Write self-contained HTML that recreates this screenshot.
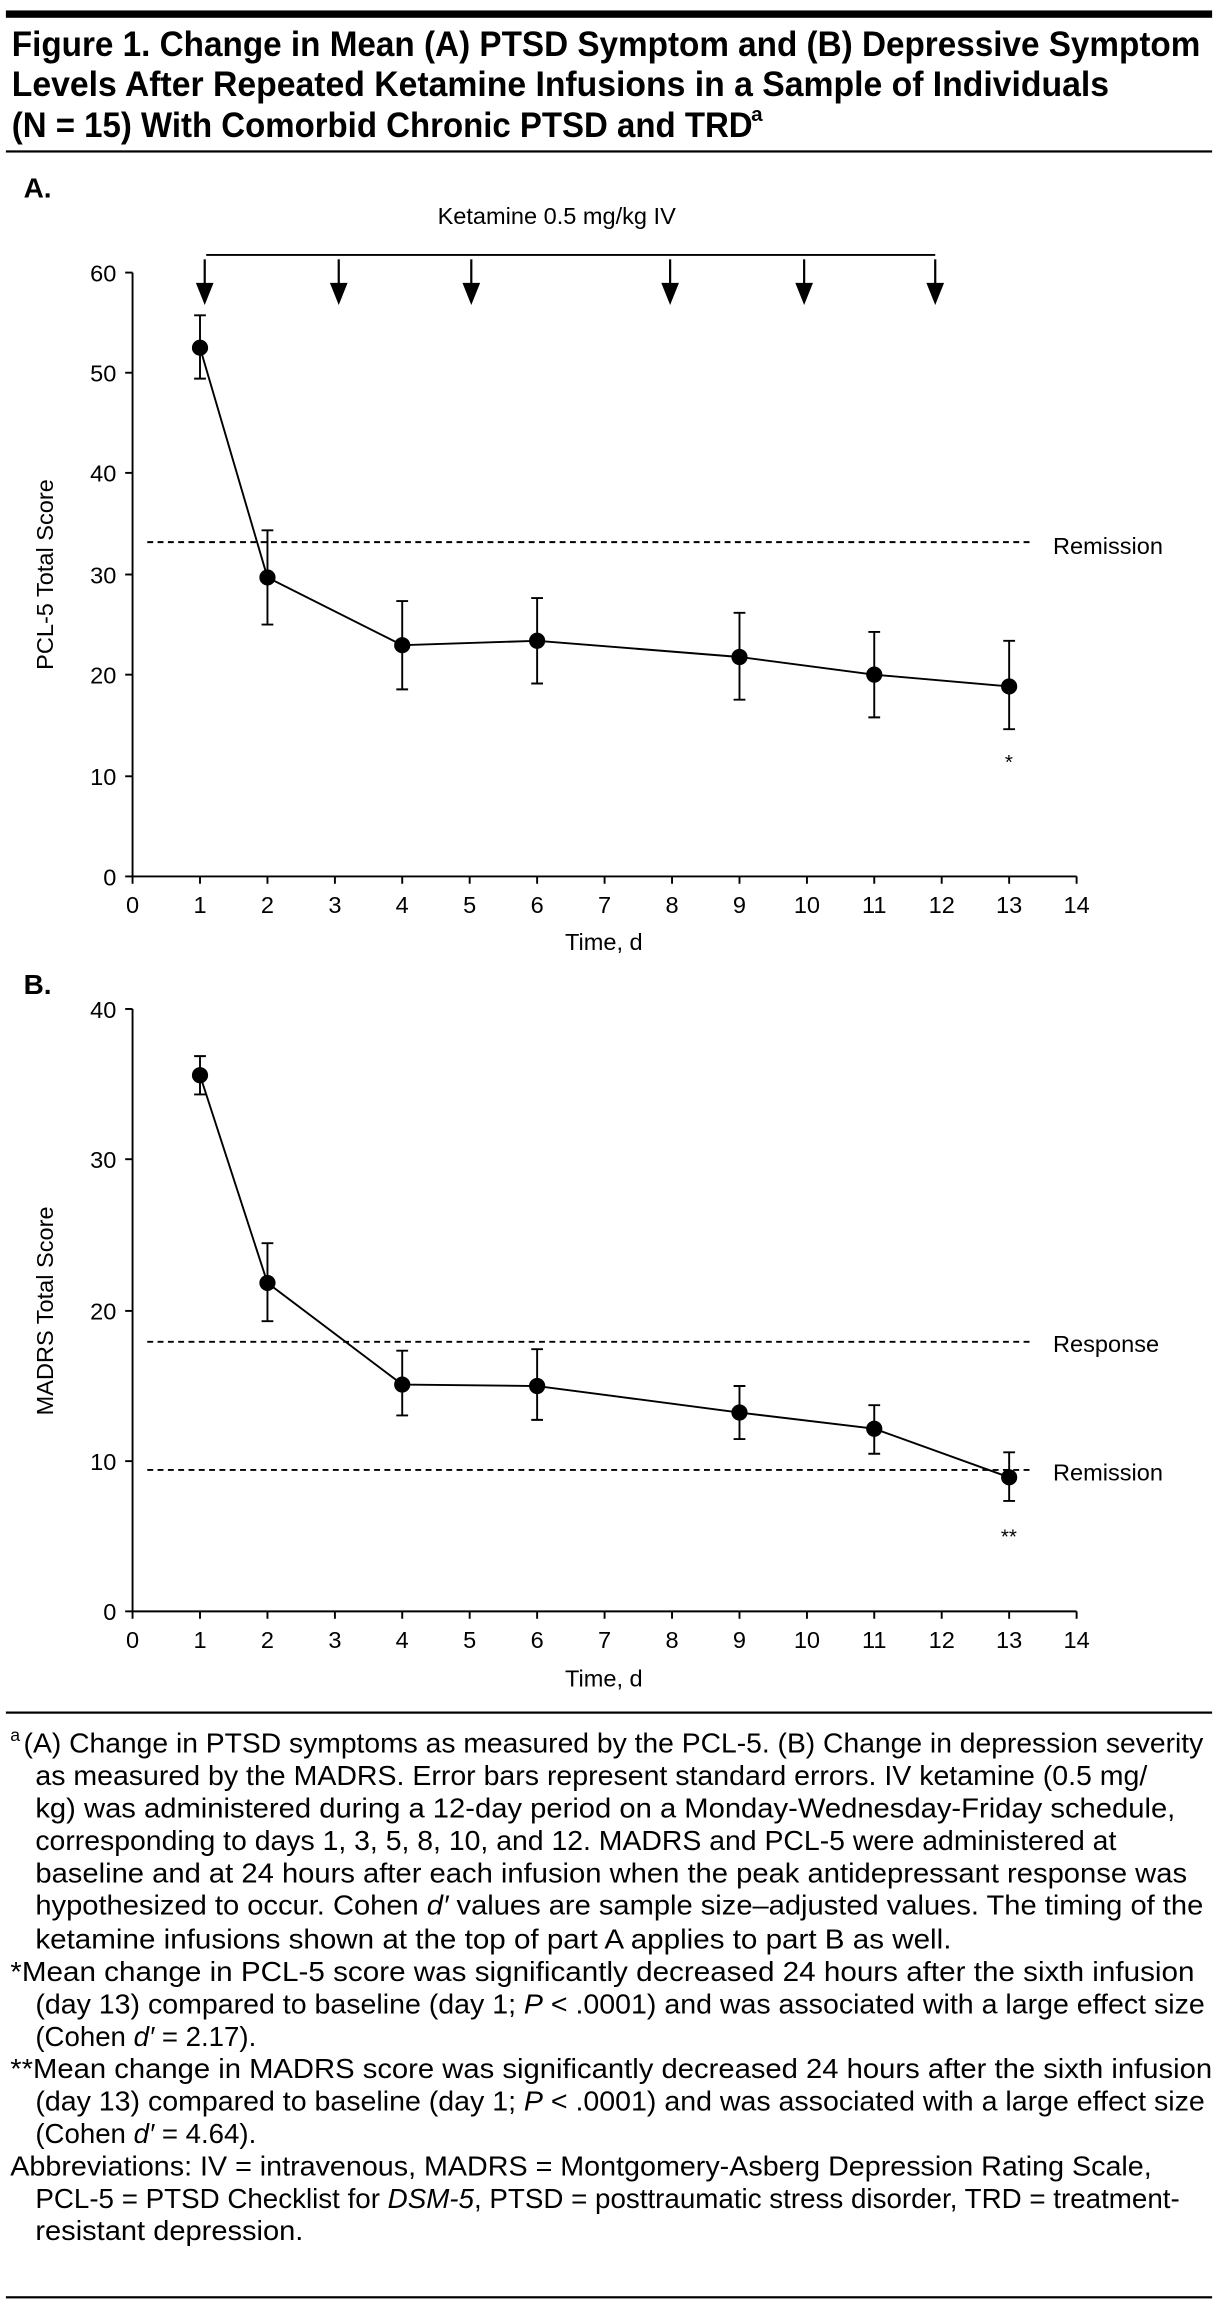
<!DOCTYPE html>
<html><head><meta charset="utf-8"><style>
html,body{margin:0;padding:0;background:#fff}
svg{display:block}
text{font-family:"Liberation Sans",sans-serif;fill:#000}
</style></head><body>
<svg width="1218" height="2314" viewBox="0 0 827 1571" xmlns="http://www.w3.org/2000/svg">
<rect x="4" y="7" width="819" height="5" fill="#000"/>
<g font-weight="bold" font-size="24">
<text x="8" y="38" textLength="807" lengthAdjust="spacingAndGlyphs">Figure 1. Change in Mean (A) PTSD Symptom and (B) Depressive Symptom</text>
<text x="8" y="65" textLength="745" lengthAdjust="spacingAndGlyphs">Levels After Repeated Ketamine Infusions in a Sample of Individuals</text>
<text x="8" y="93" textLength="503" lengthAdjust="spacingAndGlyphs">(N = 15) With Comorbid Chronic PTSD and TRD</text>
<text x="510" y="82" font-size="14" font-weight="bold">a</text>
</g>
<rect x="4" y="102" width="819" height="1.5" fill="#000"/>
<text x="16" y="134" font-size="19" font-weight="bold">A.</text>

<!-- Panel A -->
<g stroke="#000" fill="none" stroke-width="1.3">
<line x1="90" y1="185" x2="90" y2="595"/>
<line x1="90" y1="595" x2="731" y2="595"/>
<line x1="85" y1="185" x2="90" y2="185"/><line x1="85" y1="253" x2="90" y2="253"/><line x1="85" y1="321" x2="90" y2="321"/><line x1="85" y1="390" x2="90" y2="390"/><line x1="85" y1="458" x2="90" y2="458"/><line x1="85" y1="527" x2="90" y2="527"/><line x1="85" y1="595" x2="90" y2="595"/>
<path d="M90 595v5M135.8 595v5M181.6 595v5M227.4 595v5M273.1 595v5M318.9 595v5M364.7 595v5M410.5 595v5M456.3 595v5M502.1 595v5M547.9 595v5M593.6 595v5M639.4 595v5M685.2 595v5M731 595v5"/>
<line x1="140" y1="173" x2="635" y2="173"/>
<line x1="100" y1="368" x2="700" y2="368" stroke-dasharray="4,3"/>
</g>
<g stroke="#000" stroke-width="1.5">
<line x1="139" y1="176" x2="139" y2="195"/><line x1="230" y1="176" x2="230" y2="195"/><line x1="320" y1="176" x2="320" y2="195"/><line x1="455" y1="176" x2="455" y2="195"/><line x1="546" y1="176" x2="546" y2="195"/><line x1="635" y1="176" x2="635" y2="195"/>
</g>
<g fill="#000">
<path d="M133 192h12l-6 15z"/><path d="M224 192h12l-6 15z"/><path d="M314 192h12l-6 15z"/><path d="M449 192h12l-6 15z"/><path d="M540 192h12l-6 15z"/><path d="M629 192h12l-6 15z"/>
</g>
<text x="378" y="152" font-size="16" text-anchor="middle">Ketamine 0.5 mg/kg IV</text>
<g font-size="16" text-anchor="end">
<text x="79" y="191">60</text><text x="79" y="259">50</text><text x="79" y="327">40</text><text x="79" y="396">30</text><text x="79" y="464">20</text><text x="79" y="533">10</text><text x="79" y="601">0</text>
</g>
<g font-size="16" text-anchor="middle">
<text x="90" y="620">0</text><text x="135.8" y="620">1</text><text x="181.6" y="620">2</text><text x="227.4" y="620">3</text><text x="273.1" y="620">4</text><text x="318.9" y="620">5</text><text x="364.7" y="620">6</text><text x="410.5" y="620">7</text><text x="456.3" y="620">8</text><text x="502.1" y="620">9</text><text x="547.9" y="620">10</text><text x="593.6" y="620">11</text><text x="639.4" y="620">12</text><text x="685.2" y="620">13</text><text x="731" y="620">14</text>
<text x="410" y="645">Time, d</text>
<text x="685" y="522" font-size="14">*</text>
</g>
<text x="715" y="376" font-size="16">Remission</text>
<text transform="translate(36,390) rotate(-90)" font-size="16" text-anchor="middle">PCL-5 Total Score</text>
<g stroke="#000" stroke-width="1.3" fill="none">
<polyline points="135.8,236 181.6,392 273.1,438 364.7,435 502.1,446 593.6,458 685.2,466"/>
<path d="M135.8 214V257M131.8 214h8M131.8 257h8"/>
<path d="M181.6 360V424M177.6 360h8M177.6 424h8"/>
<path d="M273.1 408V468M269.1 408h8M269.1 468h8"/>
<path d="M364.7 406V464M360.7 406h8M360.7 464h8"/>
<path d="M502.1 416V475M498.1 416h8M498.1 475h8"/>
<path d="M593.6 429V487M589.6 429h8M589.6 487h8"/>
<path d="M685.2 435V495M681.2 435h8M681.2 495h8"/>
</g>
<g fill="#000">
<circle cx="135.8" cy="236" r="5.5"/><circle cx="181.6" cy="392" r="5.5"/><circle cx="273.1" cy="438" r="5.5"/><circle cx="364.7" cy="435" r="5.5"/><circle cx="502.1" cy="446" r="5.5"/><circle cx="593.6" cy="458" r="5.5"/><circle cx="685.2" cy="466" r="5.5"/>
</g>

<!-- Panel B -->
<text x="16" y="675" font-size="19" font-weight="bold">B.</text>
<g stroke="#000" fill="none" stroke-width="1.3">
<line x1="90" y1="685" x2="90" y2="1094"/>
<line x1="90" y1="1094" x2="731" y2="1094"/>
<line x1="85" y1="685" x2="90" y2="685"/><line x1="85" y1="787" x2="90" y2="787"/><line x1="85" y1="890" x2="90" y2="890"/><line x1="85" y1="992" x2="90" y2="992"/><line x1="85" y1="1094" x2="90" y2="1094"/>
<path d="M90 1094v5M135.8 1094v5M181.6 1094v5M227.4 1094v5M273.1 1094v5M318.9 1094v5M364.7 1094v5M410.5 1094v5M456.3 1094v5M502.1 1094v5M547.9 1094v5M593.6 1094v5M639.4 1094v5M685.2 1094v5M731 1094v5"/>
<line x1="100" y1="911" x2="700" y2="911" stroke-dasharray="4,3"/>
<line x1="100" y1="998" x2="700" y2="998" stroke-dasharray="4,3"/>
</g>
<g font-size="16" text-anchor="end">
<text x="79" y="691">40</text><text x="79" y="793">30</text><text x="79" y="896">20</text><text x="79" y="998">10</text><text x="79" y="1100">0</text>
</g>
<g font-size="16" text-anchor="middle">
<text x="90" y="1119">0</text><text x="135.8" y="1119">1</text><text x="181.6" y="1119">2</text><text x="227.4" y="1119">3</text><text x="273.1" y="1119">4</text><text x="318.9" y="1119">5</text><text x="364.7" y="1119">6</text><text x="410.5" y="1119">7</text><text x="456.3" y="1119">8</text><text x="502.1" y="1119">9</text><text x="547.9" y="1119">10</text><text x="593.6" y="1119">11</text><text x="639.4" y="1119">12</text><text x="685.2" y="1119">13</text><text x="731" y="1119">14</text>
<text x="410" y="1145">Time, d</text>
<text x="685" y="1048" font-size="14">**</text>
</g>
<text x="715" y="918" font-size="16">Response</text>
<text x="715" y="1005" font-size="16">Remission</text>
<text transform="translate(36,890) rotate(-90)" font-size="16" text-anchor="middle">MADRS Total Score</text>
<g stroke="#000" stroke-width="1.3" fill="none">
<polyline points="135.8,730 181.6,871 273.1,940 364.7,941 502.1,959 593.6,970 685.2,1003"/>
<path d="M135.8 717V743M131.8 717h8M131.8 743h8"/>
<path d="M181.6 844V897M177.6 844h8M177.6 897h8"/>
<path d="M273.1 917V961M269.1 917h8M269.1 961h8"/>
<path d="M364.7 916V964M360.7 916h8M360.7 964h8"/>
<path d="M502.1 941V977M498.1 941h8M498.1 977h8"/>
<path d="M593.6 954V987M589.6 954h8M589.6 987h8"/>
<path d="M685.2 986V1019M681.2 986h8M681.2 1019h8"/>
</g>
<g fill="#000">
<circle cx="135.8" cy="730" r="5.5"/><circle cx="181.6" cy="871" r="5.5"/><circle cx="273.1" cy="940" r="5.5"/><circle cx="364.7" cy="941" r="5.5"/><circle cx="502.1" cy="959" r="5.5"/><circle cx="593.6" cy="970" r="5.5"/><circle cx="685.2" cy="1003" r="5.5"/>
</g>

<rect x="4" y="1162" width="819" height="1.5" fill="#000"/>
<g font-size="19">
<text x="7" y="1182" font-size="12">a</text>
<text x="16" y="1190" textLength="801" lengthAdjust="spacingAndGlyphs">(A) Change in PTSD symptoms as measured by the PCL-5. (B) Change in depression severity</text>
<text x="24" y="1212" textLength="755" lengthAdjust="spacingAndGlyphs">as measured by the MADRS. Error bars represent standard errors. IV ketamine (0.5 mg/</text>
<text x="24" y="1234" textLength="774" lengthAdjust="spacingAndGlyphs">kg) was administered during a 12-day period on a Monday-Wednesday-Friday schedule,</text>
<text x="24" y="1256" textLength="734" lengthAdjust="spacingAndGlyphs">corresponding to days 1, 3, 5, 8, 10, and 12. MADRS and PCL-5 were administered at</text>
<text x="24" y="1278" textLength="782" lengthAdjust="spacingAndGlyphs">baseline and at 24 hours after each infusion when the peak antidepressant response was</text>
<text x="24" y="1300" textLength="793" lengthAdjust="spacingAndGlyphs">hypothesized to occur. Cohen <tspan font-style="italic">d′</tspan> values are sample size–adjusted values. The timing of the</text>
<text x="24" y="1323" textLength="622" lengthAdjust="spacingAndGlyphs">ketamine infusions shown at the top of part A applies to part B as well.</text>
<text x="7" y="1345" textLength="804" lengthAdjust="spacingAndGlyphs">*Mean change in PCL-5 score was significantly decreased 24 hours after the sixth infusion</text>
<text x="24" y="1367" textLength="794" lengthAdjust="spacingAndGlyphs">(day 13) compared to baseline (day 1; <tspan font-style="italic">P</tspan> &lt; .0001) and was associated with a large effect size</text>
<text x="24" y="1389" textLength="150" lengthAdjust="spacingAndGlyphs">(Cohen <tspan font-style="italic">d′</tspan> = 2.17).</text>
<text x="7" y="1411" textLength="816" lengthAdjust="spacingAndGlyphs">**Mean change in MADRS score was significantly decreased 24 hours after the sixth infusion</text>
<text x="24" y="1433" textLength="794" lengthAdjust="spacingAndGlyphs">(day 13) compared to baseline (day 1; <tspan font-style="italic">P</tspan> &lt; .0001) and was associated with a large effect size</text>
<text x="24" y="1455" textLength="150" lengthAdjust="spacingAndGlyphs">(Cohen <tspan font-style="italic">d′</tspan> = 4.64).</text>
<text x="7" y="1477" textLength="775" lengthAdjust="spacingAndGlyphs">Abbreviations: IV = intravenous, MADRS = Montgomery-Asberg Depression Rating Scale,</text>
<text x="24" y="1499" textLength="777" lengthAdjust="spacingAndGlyphs">PCL-5 = PTSD Checklist for <tspan font-style="italic">DSM-5</tspan>, PTSD = posttraumatic stress disorder, TRD = treatment-</text>
<text x="24" y="1521" textLength="182" lengthAdjust="spacingAndGlyphs">resistant depression.</text>
</g>
<rect x="4" y="1559" width="819" height="1.5" fill="#000"/>
</svg>
</body></html>
